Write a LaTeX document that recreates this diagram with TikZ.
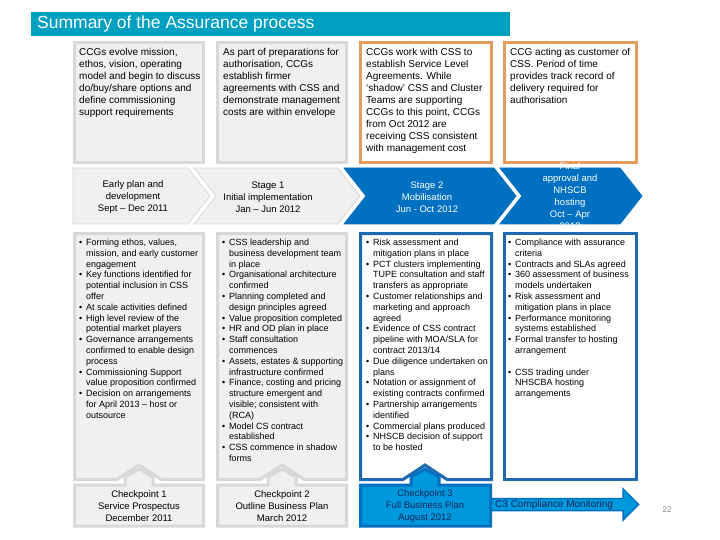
\documentclass[tikz,border=0pt]{standalone}
\usepackage{fontspec}
\setmainfont{Liberation Sans}
\definecolor{titlecyan}{RGB}{0,160,192}
\definecolor{boxgray}{RGB}{240,240,240}
\definecolor{bordergray}{RGB}{216,216,216}
\definecolor{orangeb}{RGB}{229,155,91}
\definecolor{blueb}{RGB}{30,105,175}
\definecolor{chevblue}{RGB}{0,112,192}
\definecolor{cpblue}{RGB}{0,152,220}
\definecolor{navytext}{RGB}{20,40,90}
\definecolor{pagegray}{RGB}{128,128,128}
\newcommand\bbul{\makebox[7pt][l]{\textbullet}}
\newcommand\bind{\hspace*{7pt}}
\begin{document}
\begin{tikzpicture}[x=1pt,y=-1pt,
  graybox/.style={fill=boxgray,draw=bordergray,line width=3pt},
  orangebox/.style={fill=white,draw=orangeb,line width=3pt},
  bluebox/.style={fill=white,draw=blueb,line width=3pt},
  graychev/.style={fill=boxgray,draw=bordergray,line width=0.8pt},
  bluechev/.style={fill=chevblue,draw=chevblue,line width=0.8pt},
  toptext/.style={anchor=north west,inner sep=0pt,align=left,font=\fontsize{10}{12}\selectfont},
  bultext/.style={anchor=north west,inner sep=0pt,align=left,font=\fontsize{9}{10.8}\selectfont},
  chevtext/.style={inner sep=0pt,align=center,font=\fontsize{9.5}{12}\selectfont},
  cptext/.style={inner sep=0pt,align=center,font=\fontsize{9.5}{12}\selectfont}]
\useasboundingbox (0,0) rectangle (720,540);

% title
\path[fill=titlecyan] (31,12) rectangle (510,36);
\node[anchor=west,inner sep=0pt,text=white,font=\fontsize{17.5}{20}\selectfont] (title) at (37,24) {Summary of the Assurance process};

% top boxes
\path[graybox] (74.5,42.5) rectangle (203.5,162.5);
\path[graybox] (217.5,42.5) rectangle (346.5,162.5);
\path[orangebox] (360.5,42.5) rectangle (491.5,162.5);
\path[orangebox] (504.5,42.5) rectangle (636.5,162.5);

\node[toptext] (t1) at (79,47.2) {\strut CCGs evolve mission,\\ethos, vision, operating\\model and begin to discuss\\do/buy/share options and\\define commissioning\\support requirements};
\node[toptext] (t2) at (223,47.2) {\strut As part of preparations for\\authorisation, CCGs\\establish firmer\\agreements with CSS and\\demonstrate management\\costs are within envelope};
\node[toptext] (t3) at (366,47.2) {\strut CCGs work with CSS to\\establish Service Level\\Agreements.  While\\‘shadow’ CSS and Cluster\\Teams are supporting\\CCGs to this point, CCGs\\from Oct 2012 are\\receiving CSS consistent\\with management cost};
\node[toptext] (t4) at (510,47.2) {\strut CCG acting as customer of\\CSS.  Period of time\\provides track record of\\delivery required for\\authorisation};

% chevrons
\path[graychev] (73,168) -- (188,168) -- (210,196) -- (188,224) -- (73,224) -- cycle;
\path[graychev] (194,168) -- (338,168) -- (360,196) -- (338,224) -- (194,224) -- (216,196) -- cycle;
\path[bluechev] (344,168) -- (494,168) -- (516,196) -- (494,224) -- (344,224) -- (366,196) -- cycle;
\path[bluechev] (500,168) -- (620,168) -- (642,196) -- (620,224) -- (500,224) -- (522,196) -- cycle;

\node[chevtext] (c1) at (133,197) {Early plan and\\development\\Sept – Dec 2011};
\node[chevtext] (c2) at (268,197) {Stage 1\\Initial implementation\\Jan – Jun 2012};
\node[chevtext,text=white] (c3) at (427,197) {Stage 2\\Mobilisation\\Jun - Oct 2012};
\node[chevtext,text=white] (c4) at (570,196.5) {Final\\approval and\\NHSCB\\hosting\\Oct – Apr\\2013};

% lower boxes
\path[graybox] (74.5,233.5) -- (203.5,233.5) -- (203.5,479.5) -- (161,479.5) -- (139,465) -- (117,479.5) -- (74.5,479.5) -- cycle;
\path[graybox] (217.5,233.5) -- (346.5,233.5) -- (346.5,479.5) -- (304,479.5) -- (282,465) -- (260,479.5) -- (217.5,479.5) -- cycle;
\path[bluebox] (360.5,233.5) -- (491.5,233.5) -- (491.5,479.5) -- (447,479.5) -- (425,465) -- (403,479.5) -- (360.5,479.5) -- cycle;
\path[bluebox] (504.5,233.5) rectangle (636.5,479.5);

\node[bultext] (b1) at (79,237.8) {\strut\bbul Forming ethos, values,\\\bind mission, and early customer\\\bind engagement\\\bbul Key functions identified for\\\bind potential inclusion in CSS\\\bind offer\\\bbul At scale activities defined\\\bbul High level review of the\\\bind potential market players\\\bbul Governance arrangements\\\bind confirmed to enable design\\\bind process\\\bbul Commissioning Support\\\bind value proposition confirmed\\\bbul Decision on arrangements\\\bind for April 2013 – host or\\\bind outsource};
\node[bultext] (b2) at (222,237.8) {\strut\bbul CSS leadership and\\\bind business development team\\\bind in place\\\bbul Organisational architecture\\\bind confirmed\\\bbul Planning completed and\\\bind design principles agreed\\\bbul Value proposition completed\\\bbul HR and OD plan in place\\\bbul Staff consultation\\\bind commences\\\bbul Assets, estates \& supporting\\\bind infrastructure confirmed\\\bbul Finance, costing and pricing\\\bind structure emergent and\\\bind visible; consistent with\\\bind (RCA)\\\bbul Model CS contract\\\bind established\\\bbul CSS commence in shadow\\\bind forms};
\node[bultext] (b3) at (366,237.8) {\strut\bbul Risk assessment and\\\bind mitigation plans in place\\\bbul PCT clusters implementing\\\bind TUPE consultation and staff\\\bind transfers as appropriate\\\bbul Customer relationships and\\\bind marketing and approach\\\bind agreed\\\bbul Evidence of CSS contract\\\bind pipeline with MOA/SLA for\\\bind contract 2013/14\\\bbul Due diligence undertaken on\\\bind plans\\\bbul Notation or assignment of\\\bind existing contracts confirmed\\\bbul Partnership arrangements\\\bind identified\\\bbul Commercial plans produced\\\bbul NHSCB decision of support\\\bind to be hosted};
\node[bultext] (b4) at (508,237.8) {\strut\bbul Compliance with assurance\\\bind criteria\\\bbul Contracts and SLAs agreed\\\bbul 360 assessment of business\\\bind models undertaken\\\bbul Risk assessment and\\\bind mitigation plans in place\\\bbul Performance monitoring\\\bind systems established\\\bbul Formal transfer to hosting\\\bind arrangement\\[10.8pt]\bbul CSS trading under\\\bind NHSCBA hosting\\\bind arrangements};

% compliance arrow
\path[fill=cpblue,draw=chevblue,line width=1.5pt] (490,498.5) -- (623,498.5) -- (623,489) -- (638.5,504.5) -- (623,520) -- (623,510.5) -- (490,510.5) -- cycle;
\node[anchor=west,inner sep=0pt,text=navytext,font=\fontsize{10}{12}\selectfont] (c3mon) at (495,504.5) {C3 Compliance Monitoring};

% checkpoints
\path[graybox] (74.5,485) -- (125,485) -- (125,477) -- (139,469) -- (153,477) -- (153,485) -- (203.5,485) -- (203.5,526) -- (74.5,526) -- cycle;
\path[graybox] (217.5,485) -- (268,485) -- (268,477) -- (282,469) -- (296,477) -- (296,485) -- (346.5,485) -- (346.5,526) -- (217.5,526) -- cycle;
\path[fill=cpblue,draw=chevblue,line width=3pt] (360.5,485) -- (411,485) -- (411,477) -- (425,469) -- (439,477) -- (439,485) -- (490.5,485) -- (490.5,526) -- (360.5,526) -- cycle;

\node[cptext] (cp1) at (139,506) {Checkpoint 1\\Service Prospectus\\December 2011};
\node[cptext] (cp2) at (282,506) {Checkpoint 2\\Outline Business Plan\\March 2012};
\node[cptext,text=navytext] (cp3) at (425,506) {Checkpoint 3\\Full Business Plan\\August 2012};

\node[inner sep=0pt,text=pagegray,font=\fontsize{8}{10}\selectfont] (page) at (667,510) {22};
\end{tikzpicture}
\end{document}
